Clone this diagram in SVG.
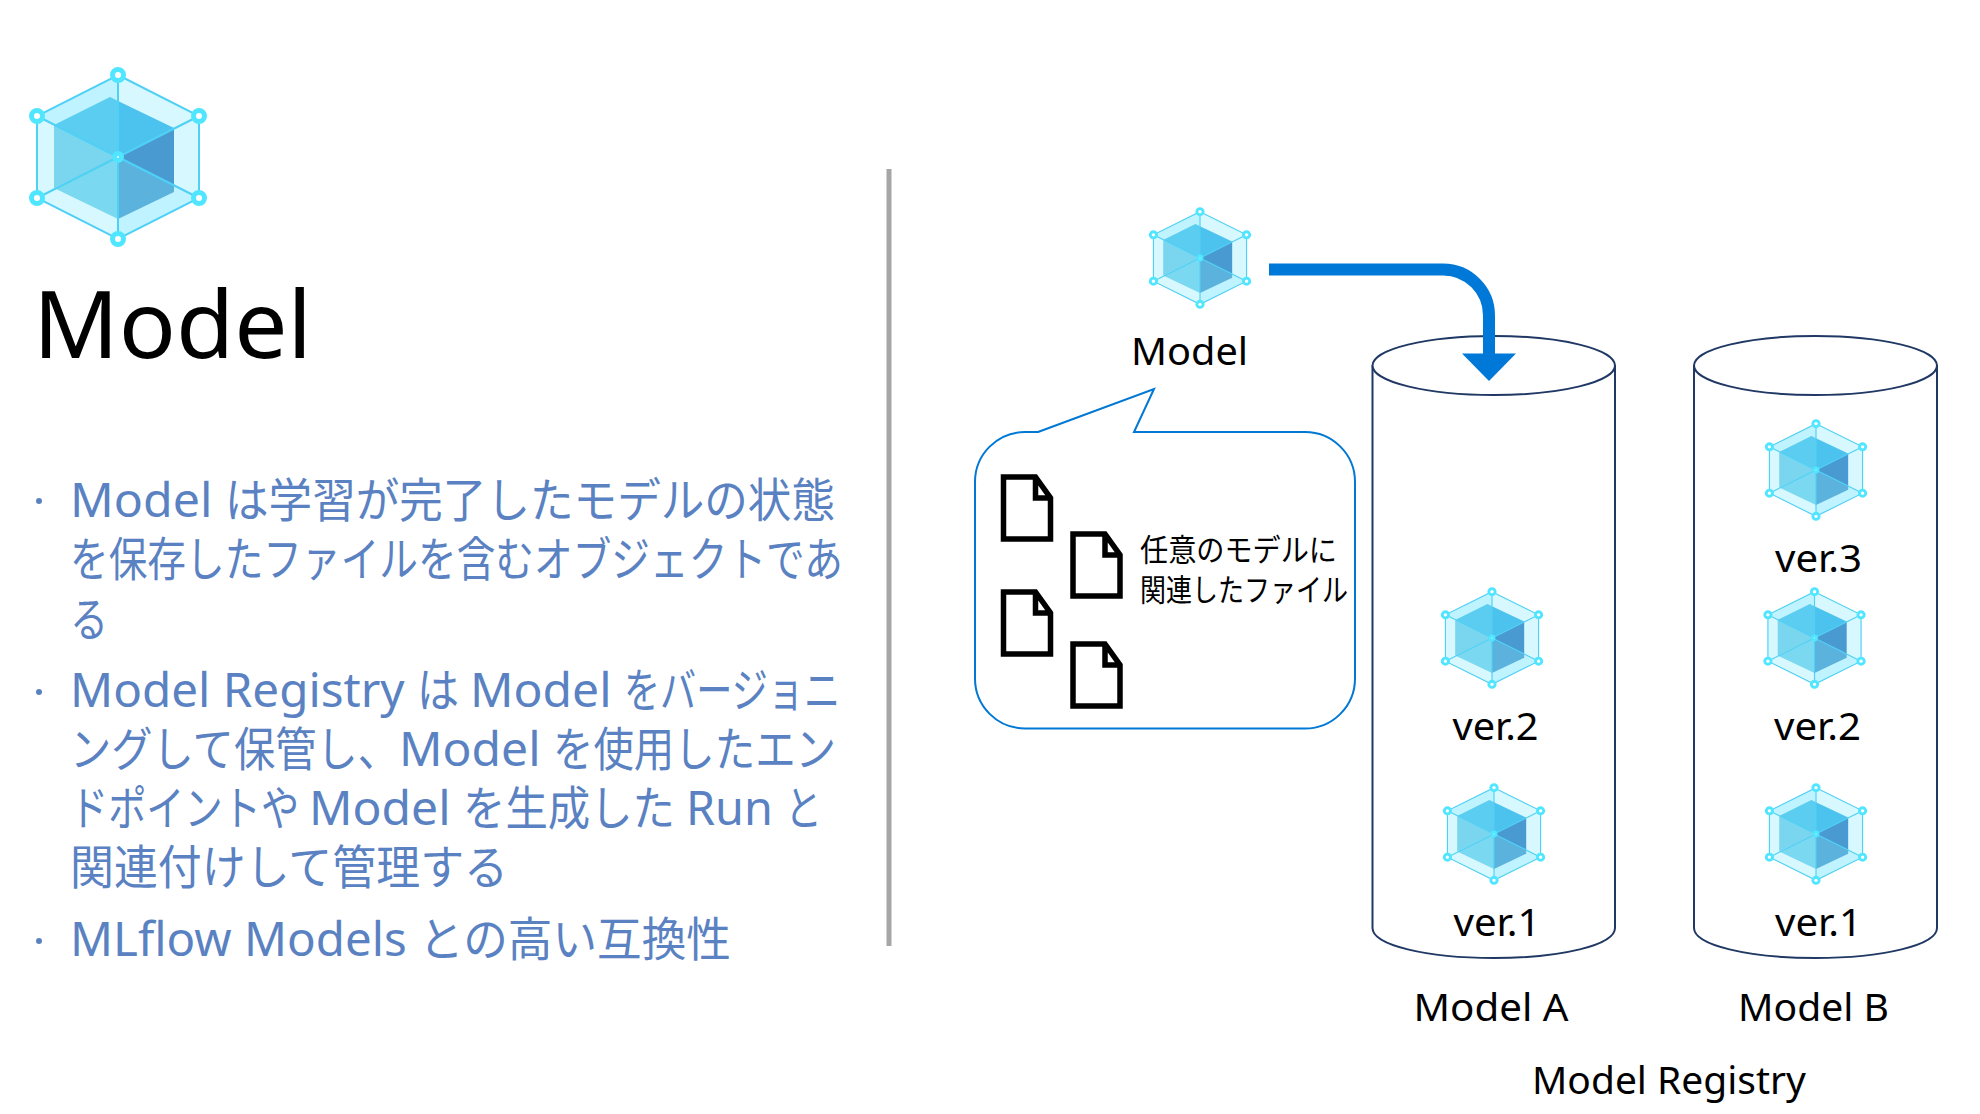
<svg xmlns="http://www.w3.org/2000/svg" width="1980" height="1114" viewBox="0 0 1980 1114">
<style>
text{font-family:"Noto Sans","Noto Sans CJK JP",sans-serif;fill:#000}
.b{font-size:47px;fill:#5a82c2}
.l{font-size:39px}
.n{font-size:31px}
.cyl{fill:#fff;stroke:#203864;stroke-width:2}
.doc{fill:#fff;stroke:#000;stroke-width:5.500;stroke-linejoin:miter}
.rs{stroke:#4fd0f5;stroke-width:2;fill:none}
.ring{fill:#fff;stroke:#50e6ff;stroke-width:5}
</style>
<defs>
<g id="hex">
<polygon points="0,0 -81,-41 0,-82" fill="#bff3ff"/>
<polygon points="0,0 0,-82 81,-41" fill="#d8f8ff"/>
<polygon points="0,0 81,-41 81,41" fill="#d8f8ff"/>
<polygon points="0,0 81,41 0,82" fill="#bff3ff"/>
<polygon points="0,0 0,82 -81,41" fill="#d8f8ff"/>
<polygon points="0,0 -81,41 -81,-41" fill="#d8f8ff"/>
<polygon points="0,0 -64,-32 -8,-60 0,-56" fill="#5bcdf0"/>
<polygon points="0,0 0,-56 56,-29" fill="#4cc3ee"/>
<polygon points="0,0 56,-29 56,28" fill="#4a9ad2"/>
<polygon points="0,0 56,28 56,35 0,62" fill="#5bb2dd"/>
<polygon points="0,0 0,62 -64,31" fill="#7ad8f0"/>
<polygon points="0,0 -64,31 -64,-32" fill="#7ad5ee"/>
<polygon class="rs" points="0,-82 81,-41 81,41 0,82 -81,41 -81,-41"/>
<path class="rs" d="M0,-82V82M-81,-41L81,41M-81,41L81,-41"/>
<circle class="ring" cx="0" cy="-82" r="5.500"/>
<circle class="ring" cx="81" cy="-41" r="5.500"/>
<circle class="ring" cx="81" cy="41" r="5.500"/>
<circle class="ring" cx="0" cy="82" r="5.500"/>
<circle class="ring" cx="-81" cy="41" r="5.500"/>
<circle class="ring" cx="-81" cy="-41" r="5.500"/>
<circle class="ring" cx="0" cy="0" r="3.500"/>
</g>
<path id="doc" class="doc" d="M0,0H32L47,21V62H0Z M32,0V21H47"/>
</defs>

<g id="title-block">
<use href="#hex" x="118" y="157"/>
<text x="33" y="358" style="font-size:94px" textLength="279" lengthAdjust="spacingAndGlyphs">Model</text>
</g>

<g id="body-text">
<circle cx="39" cy="501" r="3" fill="#5a82c2"/>
<circle cx="39" cy="692" r="3" fill="#5a82c2"/>
<circle cx="39" cy="941" r="3" fill="#5a82c2"/>
<text class="b" y="517"><tspan x="70" textLength="155" lengthAdjust="spacingAndGlyphs">Model </tspan><tspan x="225" textLength="610" lengthAdjust="spacingAndGlyphs">は学習が完了したモデルの状態</tspan></text>
<text class="b" x="70" y="576" textLength="773" lengthAdjust="spacingAndGlyphs">を保存したファイルを含むオブジェクトであ</text>
<text class="b" x="70" y="636" textLength="38" lengthAdjust="spacingAndGlyphs">る</text>
<text class="b" y="707"><tspan x="70" textLength="347" lengthAdjust="spacingAndGlyphs">Model Registry </tspan><tspan x="417" textLength="53" lengthAdjust="spacingAndGlyphs">は </tspan><tspan x="470" textLength="154" lengthAdjust="spacingAndGlyphs">Model </tspan><tspan x="624" textLength="216" lengthAdjust="spacingAndGlyphs">をバージョニ</tspan></text>
<text class="b" y="766"><tspan x="70" textLength="329" lengthAdjust="spacingAndGlyphs">ングして保管し、</tspan><tspan x="399" textLength="154" lengthAdjust="spacingAndGlyphs">Model </tspan><tspan x="553" textLength="283" lengthAdjust="spacingAndGlyphs">を使用したエン</tspan></text>
<text class="b" y="825"><tspan x="70" textLength="239" lengthAdjust="spacingAndGlyphs">ドポイントや </tspan><tspan x="309" textLength="154" lengthAdjust="spacingAndGlyphs">Model </tspan><tspan x="463" textLength="223" lengthAdjust="spacingAndGlyphs">を生成した </tspan><tspan x="686" textLength="99" lengthAdjust="spacingAndGlyphs">Run </tspan><tspan x="785" textLength="37" lengthAdjust="spacingAndGlyphs">と</tspan></text>
<text class="b" x="70" y="884" textLength="438" lengthAdjust="spacingAndGlyphs">関連付けして管理する</text>
<text class="b" y="956"><tspan x="70" textLength="349" lengthAdjust="spacingAndGlyphs">MLflow Models </tspan><tspan x="419" textLength="312" lengthAdjust="spacingAndGlyphs">との高い互換性</tspan></text>
</g>

<line id="divider" x1="889" y1="169" x2="889" y2="946" stroke="#a6a6a6" stroke-width="5"/>

<g id="cylinder-a">
<path class="cyl" d="M1372.500,365.500V928C1372.500,945 1426,958 1493.750,958S1615,945 1615,928V365.500"/>
<ellipse class="cyl" cx="1493.750" cy="365.500" rx="121.250" ry="29.500"/>
</g>
<g id="cylinder-b">
<path class="cyl" d="M1694,365.500V928C1694,945 1748,958 1815.500,958S1937,945 1937,928V365.500"/>
<ellipse class="cyl" cx="1815.500" cy="365.500" rx="121.500" ry="29.500"/>
</g>

<g id="connectors">
<path d="M1269,269.500H1443A46,46 0 0 1 1489,316V355" fill="none" stroke="#0078d7" stroke-width="12"/>
<polygon points="1462,353.500 1516,353.500 1489,381" fill="#0078d7"/>
</g>

<g id="model-node">
<use href="#hex" transform="translate(1200 258) scale(.575 .565)"/>
<text class="l" x="1131" y="365" textLength="117" lengthAdjust="spacingAndGlyphs">Model</text>
</g>

<g id="callout">
<path d="M1038,432L1154,389L1134,432H1305A50,50 0 0 1 1355,482V678.500A50,50 0 0 1 1305,728.500H1025A50,50 0 0 1 975,678.500V482A50,50 0 0 1 1025,432Z" fill="#fff" stroke="#0078d4" stroke-width="2"/>
<use href="#doc" x="1003.500" y="477"/>
<use href="#doc" x="1073" y="534"/>
<use href="#doc" x="1003.500" y="592"/>
<use href="#doc" x="1073" y="644"/>
<text class="n" x="1140" y="561" textLength="197" lengthAdjust="spacingAndGlyphs">任意のモデルに</text>
<text class="n" x="1140" y="601" textLength="208" lengthAdjust="spacingAndGlyphs">関連したファイル</text>
</g>

<g id="model-a-v2">
<use href="#hex" transform="translate(1492 638) scale(.575 .565)"/>
<text class="l" x="1452.500" y="740" textLength="86" lengthAdjust="spacingAndGlyphs">ver.2</text>
</g>
<g id="model-a-v1">
<use href="#hex" transform="translate(1494 834) scale(.575 .565)"/>
<text class="l" x="1453.500" y="936" textLength="87" lengthAdjust="spacingAndGlyphs">ver.1</text>
</g>
<g id="model-b-v3">
<use href="#hex" transform="translate(1816 470) scale(.575 .565)"/>
<text class="l" x="1775" y="572" textLength="87" lengthAdjust="spacingAndGlyphs">ver.3</text>
</g>
<g id="model-b-v2">
<use href="#hex" transform="translate(1814.500 638) scale(.575 .565)"/>
<text class="l" x="1774" y="740" textLength="87" lengthAdjust="spacingAndGlyphs">ver.2</text>
</g>
<g id="model-b-v1">
<use href="#hex" transform="translate(1816 834) scale(.575 .565)"/>
<text class="l" x="1775" y="936" textLength="87" lengthAdjust="spacingAndGlyphs">ver.1</text>
</g>

<g id="labels">
<text class="l" x="1413.500" y="1021" textLength="155" lengthAdjust="spacingAndGlyphs">Model A</text>
<text class="l" x="1738" y="1021" textLength="151" lengthAdjust="spacingAndGlyphs">Model B</text>
<text class="l" x="1532" y="1094" textLength="274" lengthAdjust="spacingAndGlyphs">Model Registry</text>
</g>
</svg>
